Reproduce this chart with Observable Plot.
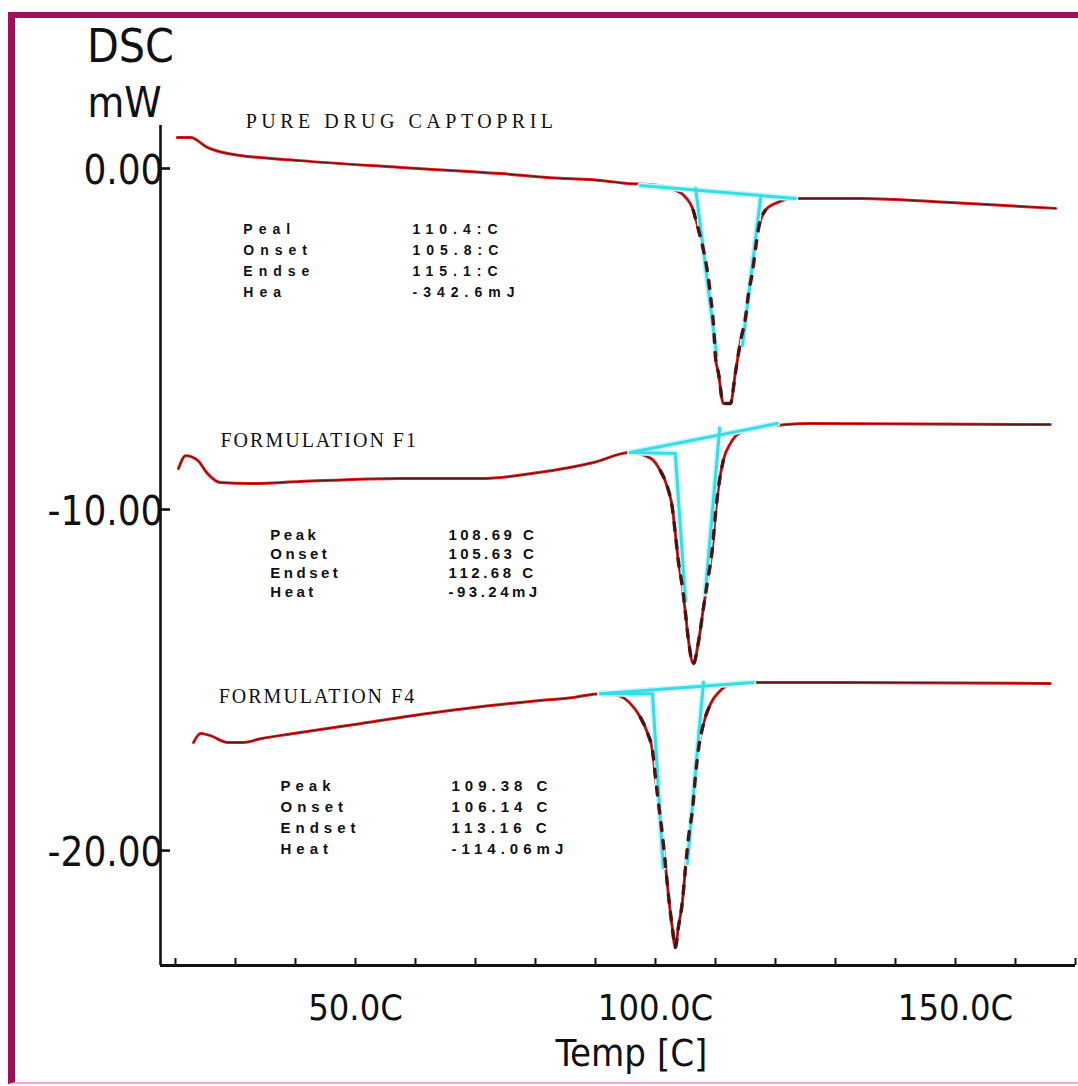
<!DOCTYPE html>
<html>
<head>
<meta charset="utf-8">
<script src="https://cdn.jsdelivr.net/npm/d3@7"></script>
<script src="https://cdn.jsdelivr.net/npm/@observablehq/plot@0.6"></script>
<style>
  html, body { margin: 0; padding: 0; background: #fff; }
  #wrap { position: relative; width: 1078px; height: 1086px; overflow: hidden; background: #fff; }
  #wrap svg { position: absolute; left: 0; top: 0; }
  #frame { position: absolute; left: 8px; top: 12px; right: 0; bottom: 2px;
           border-top: 6px solid #9c1259; border-left: 7px solid #9c1259;
           border-bottom: 2px solid #f4a6d6; pointer-events: none; }
</style>
</head>
<body>
<div id="wrap"><div id="frame"></div></div>
<script>
// ---- DSC traces (temperature °C, heat flow mW) ----
const pureT  = [20.3,22.5,25.3,28.7,40.8,57.5,74.2,84.2,90.8,95.3,99.2,102.5,104.7,106.3,107.2,108.0,108.7,109.2,109.7,110.0,110.5,111.3,112.5,113.3,114.2,115.0,115.5,116.2,116.7,117.2,118.3,120.3,123.0,134.2,149.2,166.7];
const pureMW = [0.91,0.91,0.62,0.44,0.23,0.03,-0.15,-0.29,-0.35,-0.44,-0.47,-0.59,-0.79,-1.23,-1.82,-2.40,-3.08,-3.78,-4.66,-5.54,-6.01,-6.89,-6.89,-6.01,-5.04,-4.37,-3.67,-2.99,-2.32,-1.73,-1.23,-1.00,-0.88,-0.88,-1.00,-1.17];

const f1T  = [20.5,21.7,23.7,25.3,27.5,32.5,40.8,57.5,70.8,80.8,89.7,95.8,99.2,100.8,102.0,102.8,103.3,103.8,104.5,105.0,105.5,106.3,107.2,108.0,108.7,109.5,110.0,110.5,111.3,112.5,114.2,117.5,125.8,165.8];
const f1MW = [-8.80,-8.42,-8.56,-8.94,-9.21,-9.24,-9.18,-9.09,-9.09,-8.91,-8.62,-8.33,-8.50,-8.86,-9.35,-9.94,-10.70,-11.50,-12.29,-13.05,-13.84,-14.52,-13.84,-12.87,-12.08,-11.11,-10.12,-9.35,-8.56,-8.06,-7.74,-7.60,-7.48,-7.51];

const f4T  = [23.0,24.2,25.8,28.7,31.3,34.2,39.7,45.3,50.8,60.8,70.8,80.8,86.3,90.8,93.7,95.8,97.5,98.7,99.5,100.0,100.5,101.2,101.7,102.2,102.8,103.3,103.8,104.5,105.0,105.5,106.2,106.7,107.2,108.0,109.2,110.8,113.0,117.0,130.8,165.8];
const f4MW = [-16.83,-16.57,-16.63,-16.83,-16.83,-16.72,-16.57,-16.42,-16.28,-16.01,-15.78,-15.60,-15.51,-15.40,-15.45,-15.69,-16.10,-16.57,-17.07,-17.86,-18.62,-19.62,-20.50,-21.38,-22.26,-22.84,-22.26,-21.47,-20.50,-19.62,-18.74,-17.74,-16.98,-16.28,-15.69,-15.31,-15.10,-15.07,-15.07,-15.10];

// ---- analysis construction lines (baseline + tangents), [T, mW] pairs ----
const pureLines = [[[97.5,-0.50],[123.3,-0.88]], [[106.7,-0.59],[110.2,-5.48]], [[117.5,-0.88],[114.5,-5.19]]];
const f1Lines   = [[[95.8,-8.33],[120.3,-7.48]], [[95.8,-8.33],[103.3,-8.36]], [[103.3,-8.36],[105.0,-12.67]], [[110.7,-7.62],[108.3,-12.46]]];
const f4Lines   = [[[90.8,-15.40],[116.3,-15.07]], [[90.8,-15.40],[99.5,-15.40]], [[99.5,-15.40],[101.3,-20.50]], [[108.0,-15.07],[105.3,-20.38]]];

// ---- peak ranges drawn with the darker overlay ----
const pureRange = [106.0, 118.5];
const f1Range   = [100.8, 111.5];
const f4Range   = [97.5, 109.5];

// ---- titles and result tables ----
const titles = ["PURE DRUG CAPTOPRIL", "FORMULATION F1", "FORMULATION F4"];
const pureLabels = ["Peal", "Onset", "Endse", "Hea"];
const pureValues = ["110.4:C", "105.8:C", "115.1:C", "-342.6mJ"];
const fLabels = ["Peak", "Onset", "Endset", "Heat"];
const f1Values = ["108.69 C", "105.63 C", "112.68 C", "-93.24mJ"];
const f4Values = ["109.38 C", "106.14 C", "113.16 C", "-114.06mJ"];

// ---- axes ----
const yTicks = [0, -10, -20];
const yTickLabels = ["0.00", "-10.00", "-20.00"];
const xTicks = d3.range(20, 171, 10);
const xLabelTicks = [50, 100, 150];
const xTickLabels = ["50.0C", "100.0C", "150.0C"];

const xDomain = [17.5, 170];
const yDomain = [-23.37, 1.26];

// pick a condensed face if one is installed
function hasFont(name) {
  const c = document.createElement("canvas").getContext("2d");
  c.font = "40px monospace"; const a = c.measureText("0123456789mmWW").width;
  c.font = `40px "${name}", monospace`; const b = c.measureText("0123456789mmWW").width;
  return Math.abs(a - b) > 0.5;
}
const narrowName = ["Liberation Sans Narrow", "Arial Narrow", "DejaVu Sans Condensed", "Roboto Condensed"].find(hasFont);
const axisFont = narrowName ? `'${narrowName}', sans-serif` : "'Liberation Sans', Arial, sans-serif";
const k = narrowName ? 1 : 0.84;   // shrink if only a regular-width face exists
const serif = "'Liberation Serif', 'Times New Roman', serif";

const toRows = (T, V) => T.map((t, i) => ({T: t, mW: V[i]}));
const pure = toRows(pureT, pureMW), f1 = toRows(f1T, f1MW), f4 = toRows(f4T, f4MW);
const segs = [];
[pureLines, f1Lines, f4Lines].forEach((set, s) => set.forEach((seg, j) =>
  seg.forEach(([t, v]) => segs.push({id: s + "-" + j, T: t, mW: v}))));
const inRange = (rows, r) => rows.filter(d => d.T >= r[0] && d.T <= r[1]);

function table(labels, values, xl, xv, top, step, size, cls) {
  const rows = labels.map((l, i) => ({l, v: values[i], y: top - i * step}));
  const st = {fontSize: size, fontWeight: "bold", textAnchor: "start", lineAnchor: "middle",
              fill: "#111", fontFamily: "'Liberation Sans', Arial, sans-serif", className: cls};
  return [
    Plot.text(rows, {x: () => xl, y: "y", text: "l", ...st}),
    Plot.text(rows, {x: () => xv, y: "y", text: "v", ...st})
  ];
}

const trace = {x: "T", y: "mW", curve: "monotone-x"};

const chart = Plot.plot({
  width: 1078, height: 1086,
  marginLeft: 160, marginRight: 3, marginTop: 125, marginBottom: 121,
  x: {domain: xDomain, axis: null},
  y: {domain: yDomain, axis: null},
  style: {background: "transparent", overflow: "visible"},
  marks: [
    // traces
    Plot.line(pure, {...trace, stroke: "#d82020", strokeWidth: 3}),
    Plot.line(f1,   {...trace, stroke: "#d82020", strokeWidth: 3}),
    Plot.line(f4,   {...trace, stroke: "#d82020", strokeWidth: 3}),
    Plot.line(pure, {...trace, stroke: "#5a1212", strokeWidth: 1}),
    Plot.line(f1,   {...trace, stroke: "#5a1212", strokeWidth: 1}),
    Plot.line(f4,   {...trace, stroke: "#5a1212", strokeWidth: 1}),
    // construction lines (halo + core)
    Plot.line(segs, {x: "T", y: "mW", z: "id", stroke: "#c8f6f8", strokeWidth: 6}),
    Plot.line(segs, {x: "T", y: "mW", z: "id", stroke: "#36dde4", strokeWidth: 3}),
    // dark dashes along peaks
    Plot.line(inRange(pure, pureRange), {...trace, stroke: "#4a1414", strokeWidth: 3.4, strokeDasharray: "8,10"}),
    Plot.line(inRange(f1, f1Range),     {...trace, stroke: "#4a1414", strokeWidth: 3.4, strokeDasharray: "8,10"}),
    Plot.line(inRange(f4, f4Range),     {...trace, stroke: "#4a1414", strokeWidth: 3.4, strokeDasharray: "8,10"}),
    // axes lines
    Plot.ruleX([xDomain[0]], {stroke: "#111", strokeWidth: 2.6}),
    Plot.ruleY([yDomain[0]], {stroke: "#111", strokeWidth: 3}),
    Plot.tickX(xTicks, {x: d => d, stroke: "#111", strokeWidth: 2, insetTop: 833}),
    Plot.tickY(yTicks, {y: d => d, stroke: "#111", strokeWidth: 2.6, insetRight: 905}),
    // tick labels
    Plot.text(yTicks, {x: () => xDomain[0], y: d => d, text: (d, i) => yTickLabels[i], textAnchor: "end",
      lineAnchor: "middle", dx: 3, dy: 3, fontSize: 40 * k, fontFamily: axisFont, fill: "#111"}),
    Plot.text(xLabelTicks, {x: d => d, y: () => yDomain[0], text: (d, i) => xTickLabels[i], lineAnchor: "middle",
      dy: 43, fontSize: 36 * k, fontFamily: axisFont, fill: "#111"}),
    Plot.text(["Temp [C]"], {x: () => 96, y: () => yDomain[0], dy: 88, lineAnchor: "middle",
      fontSize: 38 * k, fontFamily: axisFont, fill: "#111"}),
    Plot.text(["DSC"], {frameAnchor: "top-left", textAnchor: "middle", dx: -30, dy: -78, lineAnchor: "middle",
      fontSize: 46 * k, fontFamily: axisFont, fill: "#111"}),
    Plot.text(["mW"], {frameAnchor: "top-left", textAnchor: "middle", dx: -36, dy: -22, lineAnchor: "middle",
      fontSize: 42 * k, fontFamily: axisFont, fill: "#111"}),
    // titles
    Plot.text([titles[0]], {x: () => 31.7, y: () => 1.38, textAnchor: "start", lineAnchor: "middle", fontSize: 20, fontFamily: serif, fill: "#111", className: "ttlPure"}),
    Plot.text([titles[1]], {x: () => 27.5, y: () => -7.98, textAnchor: "start", lineAnchor: "middle", fontSize: 20, fontFamily: serif, fill: "#111", className: "ttlF"}),
    Plot.text([titles[2]], {x: () => 27.2, y: () => -15.48, textAnchor: "start", lineAnchor: "middle", fontSize: 20, fontFamily: serif, fill: "#111", className: "ttlF"}),
    // result tables
    ...table(pureLabels, pureValues, 31.3, 59.5, -1.79, 0.616, 14, "tblPure"),
    ...table(fLabels, f1Values, 35.8, 65.5, -10.76, 0.557, 15, "tblF1"),
    ...table(fLabels, f4Values, 37.5, 66.0, -18.12, 0.61, 15, "tblF4")
  ]
});
const sel = d3.select(chart);
sel.selectAll(".tblPure text").style("letter-spacing", "6px");
sel.selectAll(".tblF1 text").style("letter-spacing", "3.5px");
sel.selectAll(".tblF4 text").style("letter-spacing", "5px");
sel.selectAll(".ttlPure text").style("letter-spacing", "4.5px");
sel.selectAll(".ttlF text").style("letter-spacing", "2px");
document.getElementById("wrap").prepend(chart);
</script>
</body>
</html>
